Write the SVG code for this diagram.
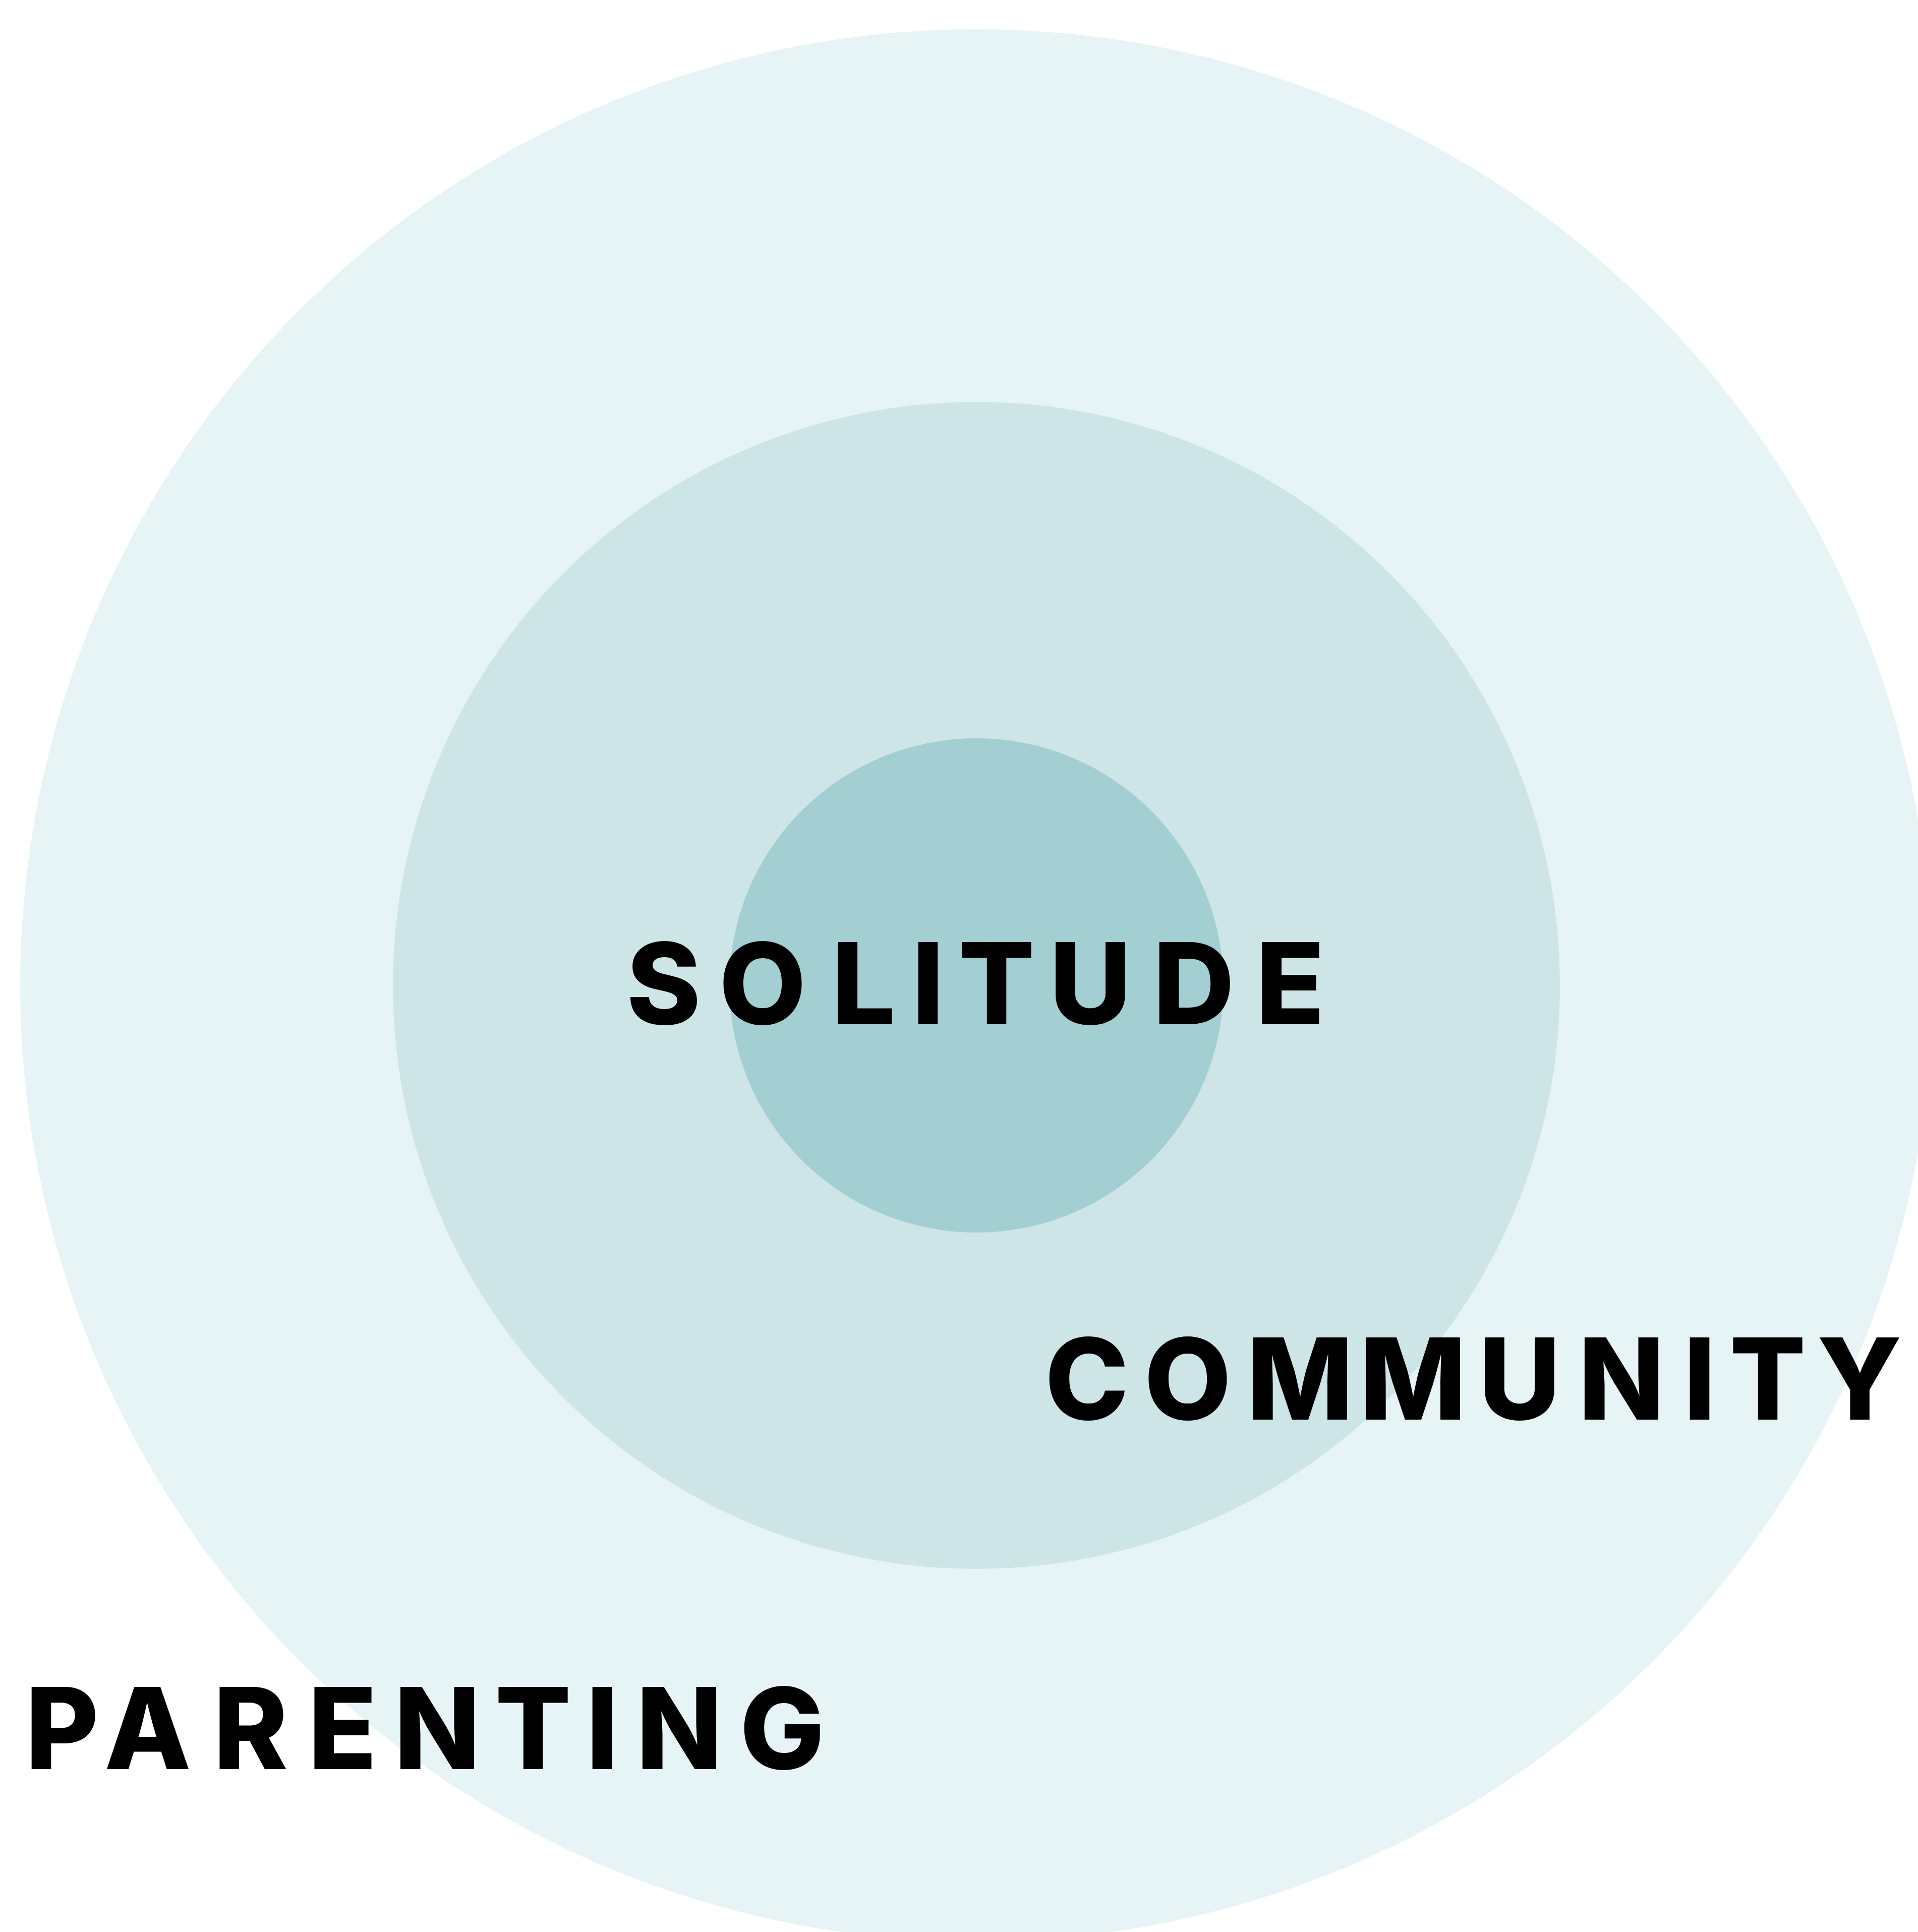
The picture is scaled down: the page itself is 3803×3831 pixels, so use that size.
<svg xmlns="http://www.w3.org/2000/svg" width="3803" height="3831" viewBox="0 0 3803 3831">
  <style>
    .ring-outer { fill: #E6F4F5; }
    .ring-middle { fill: #CEE5E7; }
    .ring-inner { fill: #A3CED2; }
    .label { font-family: Inter, Lato, "Liberation Sans", sans-serif; font-weight: 800; font-size: 224px; fill: #000; text-anchor: middle; }
  </style>
  <rect width="3803" height="3831" fill="#FFFFFF"/>

  <!-- concentric rings, outermost first -->
  <g id="parenting">
    <circle class="ring-outer" cx="1936" cy="1954" r="1896"/>
  </g>
  <g id="community">
    <circle class="ring-middle" cx="1936" cy="1954" r="1157"/>
  </g>
  <g id="solitude">
    <circle class="ring-inner" cx="1936" cy="1954" r="490"/>
  </g>

  <!-- ring labels, each glyph centred on its own x -->
  <g id="labels">
    <text id="label-solitude" class="label" x="1316 1512 1712 1840 1976 2162 2367 2558" y="2031">SOLITUDE</text>
    <text id="label-community" class="label" x="2155 2355 2578 2802 3013 3215 3370 3505 3687" y="2815">COMMUNITY</text>
    <text id="label-parenting" class="label" x="123 293 497 679 867 1057 1194 1347 1551" y="3508">PARENTING</text>
  </g>
</svg>
